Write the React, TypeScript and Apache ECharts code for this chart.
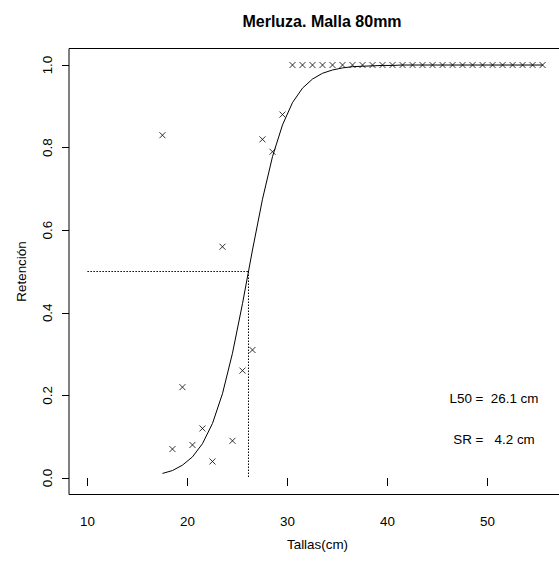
import React, { useEffect, useRef } from "react";
import * as echarts from "echarts";

// Observed data: length class (cm) and retention proportion
const lengths = [
  17.5, 18.5, 19.5, 20.5, 21.5, 22.5, 23.5, 24.5, 25.5, 26.5, 27.5, 28.5, 29.5,
  30.5, 31.5, 32.5, 33.5, 34.5, 35.5, 36.5, 37.5, 38.5, 39.5, 40.5, 41.5, 42.5,
  43.5, 44.5, 45.5, 46.5, 47.5, 48.5, 49.5, 50.5, 51.5, 52.5, 53.5, 54.5, 55.5,
];
const retention = [
  0.83, 0.07, 0.22, 0.08, 0.12, 0.04, 0.56, 0.09, 0.26, 0.31, 0.82, 0.79, 0.88,
  1, 1, 1, 1, 1, 1, 1, 1, 1, 1, 1, 1, 1, 1, 1, 1, 1, 1, 1, 1, 1, 1, 1, 1, 1, 1,
];
// Fitted selectivity curve values at each length
const fitted = [
  0.011, 0.018, 0.031, 0.051, 0.083, 0.132, 0.204, 0.302, 0.422, 0.552, 0.675,
  0.778, 0.855, 0.909, 0.944, 0.966, 0.98, 0.988, 0.993, 0.996, 0.997, 0.998,
  0.999, 0.999, 1, 1, 1, 1, 1, 1, 1, 1, 1, 1, 1, 1, 1, 1, 1,
];
const L50 = 26.1;
const SR = 4.2;
const xTicks = [10, 20, 30, 40, 50];
const yTicks = [0, 0.2, 0.4, 0.6, 0.8, 1.0];

const FONT = "'Liberation Sans', Arial, Helvetica, sans-serif";

export default function App() {
  const ref = useRef<HTMLDivElement>(null);
  useEffect(() => {
    if (!ref.current) return;
    const chart = echarts.init(ref.current, undefined, { renderer: "svg" });
    const scatterData = lengths.map((x, i) => [x, retention[i]]);
    const curveData = lengths.map((x, i) => [x, fitted[i]]);
    chart.setOption({
      animation: false,
      backgroundColor: "#fff",
      textStyle: { fontFamily: FONT },
      title: {
        text: "Merluza. Malla 80mm",
        left: 317,
        textAlign: "center",
        top: 8,
        textStyle: { fontFamily: FONT, fontSize: 16, fontWeight: "bold", color: "#000" },
      },
      grid: {
        left: 69,
        right: -7,
        top: 48.5,
        bottom: 70.5,
        show: true,
        borderColor: "#000",
        borderWidth: 1,
        backgroundColor: "transparent",
        outerBoundsMode: "none",
      },
      xAxis: {
        type: "value",
        min: 8.16,
        max: 57.84,
        name: "Tallas(cm)",
        nameLocation: "middle",
        nameGap: 43,
        nameTextStyle: { fontFamily: FONT, fontSize: 13.4, color: "#000" },
        axisLine: { show: false },
        splitLine: { show: false },
        axisTick: {
          show: true,
          length: 8,
          customValues: xTicks,
          lineStyle: { color: "#000", width: 1 },
        },
        axisLabel: {
          customValues: xTicks,
          margin: 20,
          fontFamily: FONT,
          fontSize: 13.4,
          color: "#000",
          formatter: (v: number) => String(v),
        },
      },
      yAxis: {
        type: "value",
        min: -0.04,
        max: 1.04,
        name: "Retención",
        nameLocation: "middle",
        nameGap: 41,
        nameRotate: 90,
        nameTextStyle: { fontFamily: FONT, fontSize: 13.4, color: "#000" },
        axisLine: { show: false },
        splitLine: { show: false },
        axisTick: {
          show: true,
          length: 7,
          customValues: yTicks,
          lineStyle: { color: "#000", width: 1 },
        },
        axisLabel: {
          customValues: yTicks,
          rotate: 90,
          margin: 15,
          fontFamily: FONT,
          fontSize: 13.4,
          color: "#000",
          formatter: (v: number) => v.toFixed(1),
        },
      },
      series: [
        {
          type: "line",
          data: curveData,
          showSymbol: false,
          lineStyle: { color: "#000", width: 1 },
          silent: true,
          z: 2,
        },
        {
          type: "line",
          data: [
            [10, 0.5],
            [L50, 0.5],
          ],
          showSymbol: false,
          lineStyle: { color: "#000", width: 1, type: [1.5, 1.5] },
          silent: true,
        },
        {
          type: "line",
          data: [
            [L50, 0.5],
            [L50, 0],
          ],
          showSymbol: false,
          lineStyle: { color: "#000", width: 1, type: [1.5, 1.5] },
          silent: true,
        },
        {
          type: "scatter",
          data: scatterData,
          symbol: "path://M0 0L10 10M10 0L0 10",
          symbolSize: 6,
          itemStyle: { color: "none", borderColor: "#000", borderWidth: 1 },
          z: 3,
        },
      ],
      graphic: [
        {
          type: "text",
          x: 494,
          y: 398,
          style: {
            text: "L50 =  " + L50.toFixed(1) + " cm",
            fontFamily: FONT,
            fontSize: 13.4,
            fill: "#000",
            align: "center",
            verticalAlign: "middle",
          },
        },
        {
          type: "text",
          x: 494,
          y: 439,
          style: {
            text: "SR =   " + SR.toFixed(1) + " cm",
            fontFamily: FONT,
            fontSize: 13.4,
            fill: "#000",
            align: "center",
            verticalAlign: "middle",
          },
        },
      ],
    });
    return () => chart.dispose();
  }, []);
  return (
    <div
      ref={ref}
      style={{ position: "fixed", left: 0, top: 0, width: 559, height: 565 }}
    />
  );
}
